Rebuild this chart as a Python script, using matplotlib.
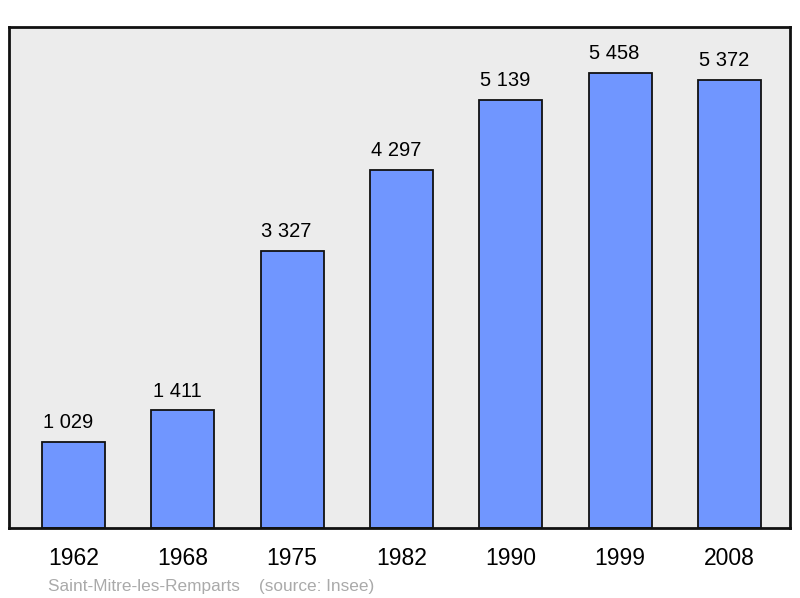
import matplotlib.pyplot as plt

plt.rcParams['font.family'] = ['Liberation Sans', 'DejaVu Sans']

years = ['1962', '1968', '1975', '1982', '1990', '1999', '2008']
population = [1029, 1411, 3327, 4297, 5139, 5458, 5372]
labels = ['1 029', '1 411', '3 327', '4 297', '5 139', '5 458', '5 372']

fig = plt.figure(figsize=(8, 5.98), dpi=100)
ax = fig.add_axes([0.01125, 0.1171, 0.97625, 0.8378])
ax.set_facecolor('#ececec')

x = list(range(len(years)))
ax.bar(x, population, width=0.576, color='#7096ff', edgecolor='#111111', linewidth=1.3, zorder=2)
for xi, v, lab in zip(x, population, labels):
    ax.annotate(lab, (xi, v), xytext=(-4, 7), textcoords='offset points',
                ha='center', va='bottom', fontsize=14.5)

ax.set_xlim(-0.59, 6.553)
ax.set_ylim(0, 6009)
ax.set_yticks([])
ax.set_xticks(x)
ax.set_xticklabels(years, fontsize=16.5)
ax.tick_params(axis='x', length=0, pad=14)
for s in ax.spines.values():
    s.set_linewidth(2)
    s.set_color('#111111')

fig.text(0.06, 0.012, 'Saint-Mitre-les-Remparts    (source: Insee)', color='#aaaaaa', fontsize=12.4)

fig.savefig('out.png', dpi=100)
